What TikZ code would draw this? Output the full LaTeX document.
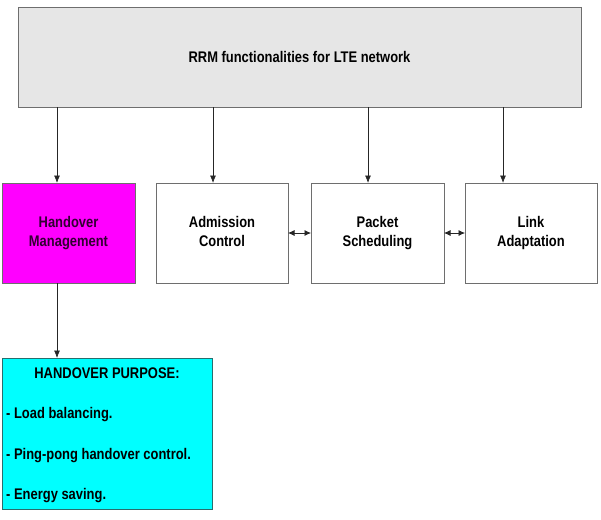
\documentclass[tikz,border=0pt]{standalone}
\usepackage{fontspec}
\setmainfont{Liberation Sans}[FakeStretch=0.84]
\usetikzlibrary{arrows.meta}
\definecolor{boxgray}{RGB}{230,230,230}
\definecolor{edgegray}{RGB}{110,110,110}
\definecolor{hocolor}{RGB}{255,0,255}
\definecolor{hotext}{RGB}{50,0,50}
\definecolor{purpcol}{RGB}{0,255,255}
\definecolor{purpedge}{RGB}{40,110,110}
\begin{document}
\begin{tikzpicture}[x=1pt,y=-1pt,
  box/.style={draw=edgegray, line width=0.8pt, align=center, inner sep=0pt, outer sep=0pt,
    font=\bfseries\fontsize{15.4}{19.5}\selectfont},
  txt/.style={font=\bfseries\fontsize{15.4}{17}\selectfont, inner sep=0pt},
  arr/.style={-{Latex[length=7.5pt,width=6pt]}, line width=0.7pt, draw=black!85},
  darr/.style={{Latex[length=6.5pt,width=6pt]}-{Latex[length=6.5pt,width=6pt]}, line width=0.7pt, draw=black!85}]
\useasboundingbox (0,0) rectangle (601,519);
\node[box, fill=boxgray, minimum width=563pt, minimum height=100pt] (rrm) at (299.5,57) {RRM functionalities for LTE network};
\node[box, fill=hocolor, text=hotext, minimum width=133pt, minimum height=100pt] (ho) at (68.5,233) {\strut Handover\\\strut Management};
\node[box, fill=white, minimum width=132pt, minimum height=100pt] (ac) at (222,233) {\strut Admission\\\strut Control};
\node[box, fill=white, minimum width=133pt, minimum height=100pt] (ps) at (377.5,233) {\strut Packet\\\strut Scheduling};
\node[box, fill=white, minimum width=132pt, minimum height=100pt] (la) at (531,233) {\strut Link\\\strut Adaptation};
\node[box, fill=purpcol, draw=purpedge, minimum width=210pt, minimum height=151pt] (hp) at (107,433.5) {};
\node[txt, anchor=base] (hpt) at (107,378.5) {HANDOVER PURPOSE:};
\node[txt, anchor=base west] (l1) at (6,418.5) {- Load balancing.};
\node[txt, anchor=base west] (l2) at (6,459.5) {- Ping-pong handover control.};
\node[txt, anchor=base west] (l3) at (6,499.5) {- Energy saving.};
\draw[arr] (rrm.south -| 57,0) -- (ho.north -| 57,0);
\draw[arr] (rrm.south -| 213,0) -- (ac.north -| 213,0);
\draw[arr] (rrm.south -| 368,0) -- (ps.north -| 368,0);
\draw[arr] (rrm.south -| 503,0) -- (la.north -| 503,0);
\draw[arr] (ho.south -| 57,0) -- (hp.north -| 57,0);
\draw[darr] (ac.east) -- (ps.west);
\draw[darr] (ps.east) -- (la.west);
\end{tikzpicture}
\end{document}
